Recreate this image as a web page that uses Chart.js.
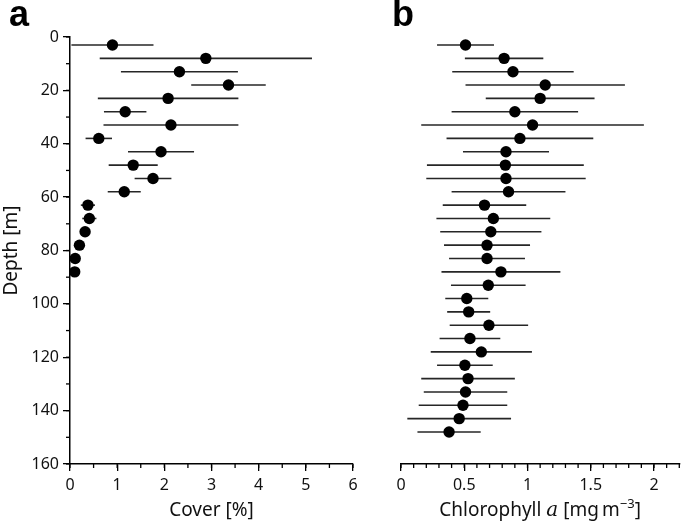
<!DOCTYPE html>
<html lang="en">
<head>
    <meta charset="UTF-8">
    <title>Cover and Chlorophyll a by depth</title>
    <script src="https://cdn.jsdelivr.net/npm/chart.js"></script>
    <style>
        body {
            margin: 0;
            background: #fff;
            width: 685px;
            height: 525px;
            overflow: hidden;
            position: relative;
        }
        .panel {
            position: absolute;
            top: 0;
            height: 525px;
        }
        #wrapA { left: 0; width: 365px; }
        #wrapB { left: 365px; width: 320px; }
        .letter {
            position: absolute;
            top: -4px;
            font-family: 'Liberation Sans', Arial, sans-serif;
            font-weight: bold;
            font-size: 36px;
            line-height: 36px;
            color: #000;
        }
    </style>
</head>
<body>
    <div class="panel" id="wrapA"><canvas id="chartA"></canvas></div>
    <div class="panel" id="wrapB"><canvas id="chartB"></canvas></div>
    <div class="letter" style="left:9px">a</div>
    <div class="letter" style="left:392px">b</div>

    <script>
// Panel a: cover
const depthA = [3, 8, 13, 18, 23, 28, 33, 38, 43, 48, 53, 58, 63, 68, 73, 78, 83, 88];
const coverA = [0.90, 2.88, 2.32, 3.36, 2.08, 1.17, 2.14, 0.61, 1.93, 1.34, 1.76, 1.15, 0.38, 0.41, 0.32, 0.20, 0.11, 0.10];
const coverErrA = [0.87, 2.25, 1.24, 0.79, 1.49, 0.45, 1.43, 0.28, 0.70, 0.52, 0.39, 0.35, 0.15, 0.15, 0, 0, 0, 0];

// Panel b: chlorophyll a
const depthB = [3, 8, 13, 18, 23, 28, 33, 38, 43, 48, 53, 58, 63, 68, 73, 78, 83, 88, 93, 98, 103, 108, 113, 118, 123, 128, 133, 138, 143, 148];
const chlB = [0.51, 0.815, 0.885, 1.14, 1.10, 0.90, 1.04, 0.94, 0.83, 0.825, 0.83, 0.85, 0.66, 0.73, 0.71, 0.68, 0.68, 0.79, 0.69, 0.52, 0.535, 0.695, 0.545, 0.635, 0.505, 0.53, 0.51, 0.49, 0.46, 0.38];
const chlErrB = [0.225, 0.31, 0.48, 0.63, 0.43, 0.50, 0.88, 0.58, 0.34, 0.62, 0.63, 0.45, 0.33, 0.45, 0.40, 0.34, 0.30, 0.47, 0.295, 0.17, 0.17, 0.31, 0.24, 0.40, 0.22, 0.37, 0.33, 0.35, 0.41, 0.25];

const coverTicks = [0, 1, 2, 3, 4, 5, 6];
const chlTicks = [0, 0.5, 1, 1.5, 2];
const depthTicks = [0, 20, 40, 60, 80, 100, 120, 140, 160];

const FONT = "'Noto Sans', 'Open Sans', sans-serif";
const INK = '#111';

// horizontal error bars, drawn under the points
const errorBars = {
    id: 'errorBars',
    beforeDatasetsDraw(chart) {
        const ctx = chart.ctx;
        const xs = chart.scales.x, ys = chart.scales.y;
        chart.data.datasets.forEach(ds => {
            if (!ds.errX) return;
            ctx.save();
            ctx.strokeStyle = '#262626';
            ctx.lineWidth = 1.6;
            ds.data.forEach((p, i) => {
                const e = ds.errX[i];
                if (!e) return;
                const y = ys.getPixelForValue(p.y);
                ctx.beginPath();
                ctx.moveTo(xs.getPixelForValue(p.x - e), y);
                ctx.lineTo(xs.getPixelForValue(p.x + e), y);
                ctx.stroke();
            });
            ctx.restore();
        });
    }
};

// small outward minor ticks
const minorTicks = {
    id: 'minorTicks',
    afterDraw(chart, args, opts) {
        const ctx = chart.ctx;
        ctx.save();
        ctx.strokeStyle = '#000';
        ctx.lineWidth = 1.3;
        const xs = chart.scales.x;
        if (opts.x) {
            const b = chart.chartArea.bottom;
            for (let v = xs.min; v <= xs.max + 1e-9; v += opts.x) {
                const px = xs.getPixelForValue(v);
                ctx.beginPath();
                ctx.moveTo(px, b);
                ctx.lineTo(px, b + 4);
                ctx.stroke();
            }
        }
        const ys = chart.scales.y;
        if (opts.y) {
            const l = chart.chartArea.left;
            for (let v = ys.min; v <= ys.max + 1e-9; v += opts.y) {
                const py = ys.getPixelForValue(v);
                ctx.beginPath();
                ctx.moveTo(l, py);
                ctx.lineTo(l - 4, py);
                ctx.stroke();
            }
        }
        ctx.restore();
    }
};

// axis title for panel b: italic a and superscript unit
const chlTitle = {
    id: 'chlTitle',
    afterDraw(chart) {
        const ctx = chart.ctx;
        const ca = chart.chartArea;
        const parts = [
            ['Chlorophyll ', "19px " + FONT, 0],
            ['a', "italic 20px 'DejaVu Serif', serif", 0],
            [' [mg\u2009m', "19px " + FONT, 0],
            ['\u22123', "13px " + FONT, -8],
            [']', "19px " + FONT, 0]
        ];
        let w = 0;
        parts.forEach(p => { ctx.font = p[1]; w += ctx.measureText(p[0]).width; });
        let x = (ca.left + ca.right) / 2 - w / 2;
        const base = 516;
        ctx.save();
        ctx.fillStyle = INK;
        ctx.textBaseline = 'alphabetic';
        parts.forEach(p => {
            ctx.font = p[1];
            ctx.fillText(p[0], x, base + p[2]);
            x += ctx.measureText(p[0]).width;
        });
        ctx.restore();
    }
};

function axisStyle() {
    return {
        grid: { display: true, drawOnChartArea: false, drawTicks: true, tickLength: 7, color: '#000', lineWidth: 1.3 },
        border: { display: true, color: '#000', width: 1.5 }
    };
}

const tickFont = { family: FONT, size: 16 };
const plainLabel = v => String(v);

const pointStyle = {
    backgroundColor: '#000',
    borderWidth: 0,
    pointRadius: 5.7,
    pointHoverRadius: 5.7,
    clip: false
};

// Panel a
new Chart(document.getElementById('chartA'), {
    type: 'scatter',
    data: {
        datasets: [Object.assign({
            label: 'Cover',
            data: depthA.map((d, i) => ({ x: coverA[i], y: d })),
            errX: coverErrA
        }, pointStyle)]
    },
    options: {
        responsive: true,
        maintainAspectRatio: false,
        animation: false,
        layout: { padding: { top: 37, right: 12, left: 0, bottom: 0 } },
        plugins: {
            legend: { display: false },
            tooltip: { enabled: false },
            minorTicks: { x: 0.5, y: 10 }
        },
        scales: {
            x: Object.assign(axisStyle(), {
                type: 'linear',
                min: 0,
                max: 6,
                afterBuildTicks(s) { s.ticks = coverTicks.map(v => ({ value: v })); },
                ticks: { color: INK, padding: 5, font: tickFont, callback: plainLabel },
                title: { display: true, text: 'Cover [%]', color: INK, font: { family: FONT, size: 19 }, padding: { top: 0, bottom: 3 } },
                afterFit(s) { s.height = 61; }
            }),
            y: Object.assign(axisStyle(), {
                type: 'linear',
                reverse: true,
                min: 0,
                max: 160,
                afterBuildTicks(s) { s.ticks = depthTicks.map(v => ({ value: v })); },
                ticks: { color: INK, padding: 4, font: tickFont, callback: plainLabel },
                title: { display: true, text: 'Depth [m]', color: INK, font: { family: FONT, size: 19 }, padding: { top: 0, bottom: 0 } },
                afterFit(s) { s.width = 70; }
            })
        }
    },
    plugins: [errorBars, minorTicks]
});

// Panel b
new Chart(document.getElementById('chartB'), {
    type: 'scatter',
    data: {
        datasets: [Object.assign({
            label: 'Chlorophyll a',
            data: depthB.map((d, i) => ({ x: chlB[i], y: d })),
            errX: chlErrB
        }, pointStyle)]
    },
    options: {
        responsive: true,
        maintainAspectRatio: false,
        animation: false,
        layout: { padding: { top: 37, right: 1, left: 36, bottom: 0 } },
        plugins: {
            legend: { display: false },
            tooltip: { enabled: false },
            minorTicks: { x: 0.1 }
        },
        scales: {
            x: Object.assign(axisStyle(), {
                type: 'linear',
                min: 0,
                max: 2.2,
                afterBuildTicks(s) { s.ticks = chlTicks.map(v => ({ value: v })); },
                ticks: { color: INK, padding: 5, font: tickFont, callback: plainLabel },
                title: { display: false },
                afterFit(s) { s.height = 61; }
            }),
            y: {
                type: 'linear',
                display: false,
                reverse: true,
                min: 0,
                max: 160
            }
        }
    },
    plugins: [errorBars, minorTicks, chlTitle]
});
    </script>
</body>
</html>
